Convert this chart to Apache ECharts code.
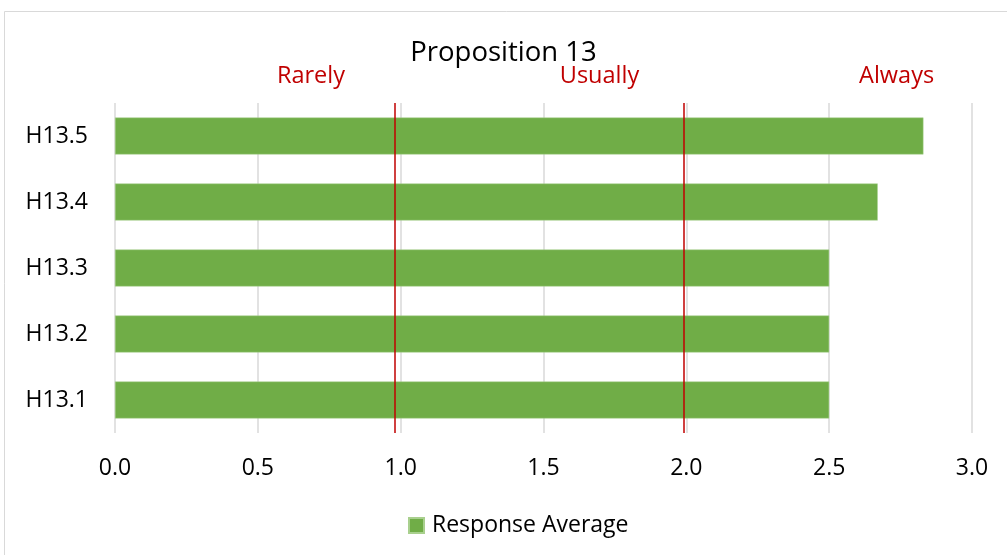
<!DOCTYPE html>
<html>
<head>
<meta charset="utf-8">
<script src="https://cdn.jsdelivr.net/npm/echarts@6/dist/echarts.min.js"></script>
<style>
  html, body { margin: 0; padding: 0; background: #fff; }
  #chart { width: 1007px; height: 555px; }
</style>
</head>
<body>
<div id="chart"></div>
<script>
// Proposition 13 response averages
const categories = ['H13.1', 'H13.2', 'H13.3', 'H13.4', 'H13.5'];
const responseAverage = [2.5, 2.5, 2.5, 2.67, 2.83];
const xTicks = [0, 0.5, 1.0, 1.5, 2.0, 2.5, 3.0];
// scale reference lines and their band names
const thresholds = [0.985, 1.99];
const bandLabels = [
  { text: 'Rarely', at: 0.686 },
  { text: 'Usually', at: 1.696 },
  { text: 'Always', at: 2.736 }
];

const FONT = '"Open Sans", "Noto Sans", sans-serif';
const chart = echarts.init(document.getElementById('chart'));

const gridLeft = 115, gridRight = 35, gridTop = 103, gridBottom = 122;
const plotW = 1007 - gridLeft - gridRight;
const xMin = xTicks[0], xMax = xTicks[xTicks.length - 1];

chart.setOption({
  animation: false,
  backgroundColor: '#fff',
  title: {
    text: 'Proposition 13',
    left: 'center',
    top: 34,
    textStyle: { fontFamily: FONT, fontSize: 27.5, fontWeight: 'normal', color: '#000' }
  },
  legend: {
    bottom: 13,
    left: 403,
    itemWidth: 15,
    itemHeight: 15,
    icon: 'rect',
    textStyle: { fontFamily: FONT, fontSize: 23, color: '#000', padding: [0, 0, 0, 3] },
    data: ['Response Average']
  },
  grid: { left: gridLeft, right: gridRight, top: gridTop, bottom: gridBottom },
  xAxis: {
    type: 'value',
    min: xMin,
    max: xMax,
    interval: 0.5,
    axisLine: { show: false },
    axisTick: { show: false },
    splitLine: { lineStyle: { color: '#d9d9d9', width: 1.5 } },
    axisLabel: {
      margin: 24,
      fontFamily: FONT, fontSize: 23, color: '#000',
      formatter: v => v.toFixed(1)
    }
  },
  yAxis: {
    type: 'category',
    data: categories,
    axisLine: { show: false },
    axisTick: { show: false },
    axisLabel: { margin: 27, fontFamily: FONT, fontSize: 23, color: '#000' }
  },
  series: [{
    name: 'Response Average',
    type: 'bar',
    data: responseAverage,
    barCategoryGap: '44%',
    itemStyle: { color: '#70AD47', borderColor: '#a9d08e', borderWidth: 0.5 },
    markLine: {
      silent: true,
      symbol: 'none',
      label: { show: false },
      lineStyle: { color: '#C00000', width: 1.5, type: 'solid' },
      data: thresholds.map(v => ({ xAxis: v }))
    }
  }],
  graphic: [
    {
      type: 'rect',
      shape: { x: 4.5, y: 11.5, width: 1100, height: 600 },
      style: { fill: 'none', stroke: '#d9d9d9', lineWidth: 1 },
      silent: true
    }
  ].concat(bandLabels.map(b => ({
    type: 'text',
    x: gridLeft + (b.at - xMin) / (xMax - xMin) * plotW,
    y: 76,
    style: {
      text: b.text,
      fill: '#C00000',
      font: '23.5px ' + FONT,
      textAlign: 'center',
      textVerticalAlign: 'middle'
    }
  })))
});
</script>
</body>
</html>
